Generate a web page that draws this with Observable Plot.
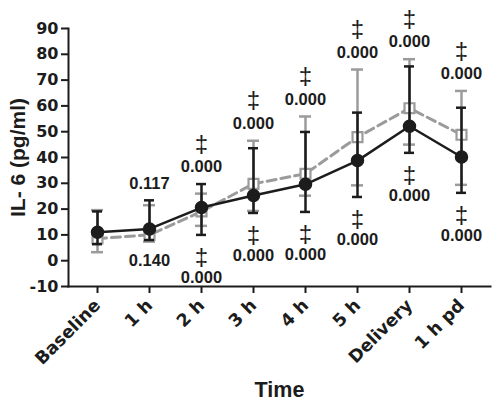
<!DOCTYPE html>
<html>
<head>
<meta charset="utf-8">
<script src="https://cdn.jsdelivr.net/npm/d3@7"></script>
<script src="https://cdn.jsdelivr.net/npm/@observablehq/plot@0.6"></script>
<style>
  html, body { margin: 0; padding: 0; background: #fff; }
  #chart svg { display: block; }
</style>
</head>
<body>
<div id="chart"></div>
<script>
// ---- data ----
const categories = ["Baseline", "1 h", "2 h", "3 h", "4 h", "5 h", "Delivery", "1 h pd"];
const yTicks = [-10, 0, 10, 20, 30, 40, 50, 60, 70, 80, 90];
const yDomain = [-10, 90];

// black series (filled circles, solid line)
const blackMean  = [11.0, 12.3, 20.6, 25.3, 29.6, 38.8, 52.1, 40.2];
const blackUpper = [19.1, 23.4, 29.7, 43.6, 49.9, 57.4, 75.3, 59.3];
const blackLower = [6.4, 8.0, 10.0, 18.5, 18.9, 24.7, 41.8, 26.3];

// grey series (open squares, dashed line)
const greyMean  = [8.6, 10.0, 19.1, 29.8, 33.7, 47.9, 59.1, 48.8];
const greyUpper = [19.6, 21.5, 26.0, 46.5, 55.9, 74.1, 78.1, 65.8];
const greyLower = [3.3, 7.4, 13.5, 19.3, 25.2, 29.2, 45.0, 29.4];

// p-value annotations
const pAbove = [null, "0.117", "0.000", "0.000", "0.000", "0.000", "0.000", "0.000"];
const pBelow = [null, "0.140", "0.000", "0.000", "0.000", "0.000", "0.000", "0.000"];
const daggerAbove = [false, false, true, true, true, true, true, true];
const daggerBelow = [false, false, true, true, true, true, true, true];

const yTitle = "IL- 6 (pg/ml)";
const xTitle = "Time";

// ---- build tables ----
const black = categories.map((c, i) => ({cat: c, mean: blackMean[i], hi: blackUpper[i], lo: blackLower[i]}));
const grey  = categories.map((c, i) => ({cat: c, mean: greyMean[i], hi: greyUpper[i], lo: greyLower[i]}));
const ann = categories.map((c, i) => ({
  cat: c,
  top: Math.max(blackUpper[i], greyUpper[i]),
  bottom: Math.min(blackLower[i], greyLower[i]),
  above: pAbove[i], below: pBelow[i],
  dA: daggerAbove[i], dB: daggerBelow[i]
}));

const GREY = "#9b9b9b";
const INK = "#1c1c1c";
const tickFont = "DejaVu Sans, sans-serif";
const annFont = "Liberation Sans, Arial, sans-serif";

const chart = Plot.plot({
  width: 492,
  height: 403,
  marginLeft: 68,
  marginRight: 2,
  marginTop: 28,
  marginBottom: 117,
  x: {type: "band", domain: categories, paddingInner: 0.8, paddingOuter: 0.4245, axis: null},
  y: {domain: yDomain, axis: null},
  style: {background: "#fff", color: INK, overflow: "visible"},
  marks: [
    // axes
    Plot.axisY(yTicks, {tickSize: 7, tickPadding: 3, strokeWidth: 2, stroke: INK,
      fontSize: 16, fontWeight: "bold", fontFamily: tickFont, fill: INK,
      tickFormat: d => String(d), label: null}),
    Plot.axisX({tickSize: 7, tickPadding: 9, tickRotate: -45, strokeWidth: 2, stroke: INK,
      fontSize: 17.5, fontWeight: "bold", fontFamily: tickFont, fill: INK, label: null}),
    Plot.frame({anchor: "left", strokeWidth: 2, stroke: INK}),
    Plot.frame({anchor: "bottom", strokeWidth: 2, stroke: INK}),

    // grey series
    Plot.ruleX(grey, {x: "cat", y1: "lo", y2: "hi", stroke: GREY, strokeWidth: 2.5}),
    Plot.tickY(grey, {x: "cat", y: "hi", stroke: GREY, strokeWidth: 2.5, insetLeft: -1, insetRight: -1}),
    Plot.tickY(grey, {x: "cat", y: "lo", stroke: GREY, strokeWidth: 2.5, insetLeft: -1, insetRight: -1}),
    Plot.line(grey, {x: "cat", y: "mean", stroke: GREY, strokeWidth: 3, strokeDasharray: "9,5"}),
    Plot.dot(grey, {x: "cat", y: "mean", symbol: "square", r: 5.6, stroke: GREY, strokeWidth: 2.2, fill: "#fff"}),

    // black series
    Plot.ruleX(black, {x: "cat", y1: "lo", y2: "hi", stroke: INK, strokeWidth: 2.5}),
    Plot.tickY(black, {x: "cat", y: "hi", stroke: INK, strokeWidth: 2.5}),
    Plot.tickY(black, {x: "cat", y: "lo", stroke: INK, strokeWidth: 2.5}),
    Plot.line(black, {x: "cat", y: "mean", stroke: INK, strokeWidth: 2.5}),
    Plot.dot(black, {x: "cat", y: "mean", r: 6, fill: INK, stroke: INK}),

    // annotations above
    Plot.text(ann.filter(d => d.above), {x: "cat", y: "top", text: "above", dy: -17,
      fontSize: 16.5, fontWeight: "bold", fontFamily: annFont, fill: INK}),
    Plot.text(ann.filter(d => d.dA), {x: "cat", y: "top", text: () => "\u2021", dy: -40,
      fontSize: 24, fontFamily: annFont, fill: INK}),
    // annotations below
    Plot.text(ann.filter(d => d.below && !d.dB), {x: "cat", y: "bottom", text: "below", dy: 19,
      fontSize: 16.5, fontWeight: "bold", fontFamily: annFont, fill: INK}),
    Plot.text(ann.filter(d => d.below && d.dB), {x: "cat", y: "bottom", text: "below", dy: 43,
      fontSize: 16.5, fontWeight: "bold", fontFamily: annFont, fill: INK}),
    Plot.text(ann.filter(d => d.dB), {x: "cat", y: "bottom", text: () => "\u2021", dy: 22,
      fontSize: 24, fontFamily: annFont, fill: INK}),

    // axis titles
    Plot.text([yTitle], {y: () => (yDomain[0] + yDomain[1]) / 2, frameAnchor: "left", dx: -50, rotate: -90,
      text: d => d, textAnchor: "middle", lineAnchor: "middle",
      fontSize: 21, fontWeight: "bold", fontFamily: annFont, fill: INK}),
    Plot.text([xTitle], {frameAnchor: "bottom", dy: 104, text: d => d,
      textAnchor: "middle", lineAnchor: "middle",
      fontSize: 21.5, fontWeight: "bold", fontFamily: annFont, fill: INK})
  ]
});

document.getElementById("chart").appendChild(chart);
</script>
</body>
</html>
